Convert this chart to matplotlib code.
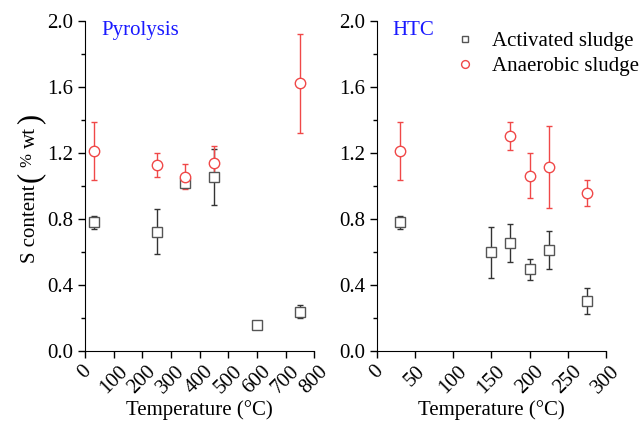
import matplotlib
matplotlib.use("Agg")
import matplotlib.pyplot as plt
import matplotlib.transforms as mtrans
from matplotlib.ticker import MultipleLocator

plt.rcParams['font.family'] = ['Liberation Serif', 'DejaVu Serif']

# Pyrolysis data
pyr_act_T = [30, 250, 350, 450, 600, 750]
pyr_act_S = [0.78, 0.724, 1.018, 1.054, 0.155, 0.238]
pyr_act_err = [0.04, 0.137, 0.02, 0.17, 0.02, 0.04]
pyr_ana_T = [30, 250, 350, 450, 750]
pyr_ana_S = [1.212, 1.127, 1.056, 1.139, 1.623]
pyr_ana_err = [0.175, 0.074, 0.077, 0.10, 0.30]

# HTC data
htc_act_T = [30, 150, 175, 200, 225, 275]
htc_act_S = [0.78, 0.599, 0.655, 0.494, 0.611, 0.302]
htc_act_err = [0.04, 0.155, 0.115, 0.065, 0.115, 0.08]
htc_ana_T = [30, 175, 200, 225, 275]
htc_ana_S = [1.212, 1.302, 1.0625, 1.115, 0.958]
htc_ana_err = [0.175, 0.085, 0.135, 0.25, 0.08]

pyr_xticks = [0, 100, 200, 300, 400, 500, 600, 700, 800]
htc_xticks = [0, 50, 100, 150, 200, 250, 300]
yticks = [0.0, 0.4, 0.8, 1.2, 1.6, 2.0]

act_color = '#555555'
act_err_color = '#333333'
ana_color = '#f04848'

W, H = 644, 425
fig = plt.figure(figsize=(W / 100, H / 100), dpi=100)
ax1 = fig.add_axes([0.132, 0.174, 0.356, 0.777])
ax2 = fig.add_axes([0.585, 0.174, 0.356, 0.777])

def draw(ax, aT, aS, aE, nT, nS, nE, xticks, xmax, title, tx):
    ax.errorbar(aT, aS, yerr=aE, fmt='s', ms=6.5, mfc='white', mec=act_color,
                mew=1.0, ecolor=act_err_color, elinewidth=1.0, capsize=2.5,
                capthick=1.0, label='Activated sludge', zorder=3)
    ax.errorbar(nT, nS, yerr=nE, fmt='o', ms=7.5, mfc='white', mec=ana_color,
                mew=1.0, ecolor=ana_color, elinewidth=1.0, capsize=2.5,
                capthick=1.0, label='Anaerobic sludge', zorder=3)
    ax.set_xlim(0, xmax)
    ax.set_ylim(0, 2.0)
    ax.set_xticks(xticks)
    ax.set_xticklabels([str(t) for t in xticks], rotation=45, ha='center', va='top')
    off = mtrans.ScaledTranslation(4 / 100, 0, fig.dpi_scale_trans)
    for lab in ax.get_xticklabels():
        lab.set_transform(lab.get_transform() + off)
    ax.set_yticks(yticks)
    ax.set_yticklabels(['%.1f' % t for t in yticks])
    ax.yaxis.set_minor_locator(MultipleLocator(0.2))
    ax.spines['top'].set_visible(False)
    ax.spines['right'].set_visible(False)
    ax.tick_params(axis='both', which='major', direction='out', length=5, width=1,
                   labelsize=15)
    ax.tick_params(axis='x', which='major', pad=3)
    ax.tick_params(axis='y', which='minor', direction='out', length=3, width=1)
    ax.set_xlabel('Temperature (°C)', fontsize=15, labelpad=2)
    ax.text(tx, 1.0, title, transform=ax.transAxes, color='#1a1aff',
            fontsize=15, va='top', ha='left')

draw(ax1, pyr_act_T, pyr_act_S, pyr_act_err, pyr_ana_T, pyr_ana_S, pyr_ana_err,
     pyr_xticks, 800, 'Pyrolysis', 0.07)
draw(ax2, htc_act_T, htc_act_S, htc_act_err, htc_ana_T, htc_ana_S, htc_ana_err,
     htc_xticks, 300, 'HTC', 0.07)

# y-axis label built from pieces (large parentheses, small raised %)
# (text, fontsize, baseline offset px, gap after px)
renderer = fig.canvas.get_renderer()
label_pieces = [('S content', 15, 0, 3), ('(', 22, 3, 4), ('%', 12, -4, 5),
                ('wt', 15, 0, 3), (')', 22, 3, 0)]
x0 = 35
ycur = H - 263
for s, size, dx, gap in label_pieces:
    t = fig.text(x0 + dx, ycur, s, fontsize=size, rotation=90,
                 rotation_mode='anchor', ha='left', va='baseline',
                 transform=mtrans.IdentityTransform())
    ext = t.get_window_extent(renderer)
    ycur = ext.y1 + gap

h, l = ax2.get_legend_handles_labels()
h = [hh[0] for hh in h]
leg = ax2.legend(h, l, loc='upper right', bbox_to_anchor=(1.022, 0.97),
                 bbox_transform=fig.transFigure, frameon=False, fontsize=15,
                 markerscale=0.75, handletextpad=0.5, labelspacing=0.25,
                 handlelength=1.6)

fig.savefig('out.png', dpi=100)
